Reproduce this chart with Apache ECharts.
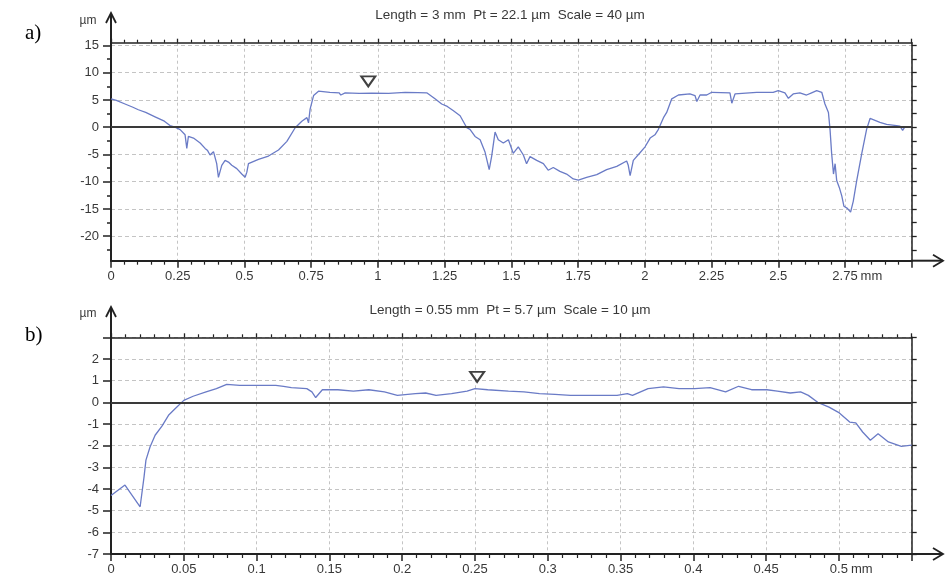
<!DOCTYPE html>
<html>
<head>
<meta charset="utf-8">
<script src="https://cdn.jsdelivr.net/npm/echarts@6/dist/echarts.min.js"></script>
<style>
  html, body { margin: 0; padding: 0; background: #fff; }
  #chart { width: 945px; height: 580px; }
</style>
</head>
<body>
<div id="chart"></div>
<script>
// ---- Profile a): 3 mm trace (x in mm, height in µm) ----
const profileA_x = [
  0, 0.02, 0.0525, 0.08, 0.1025, 0.13, 0.165, 0.2, 0.221, 0.24, 0.259, 0.2775, 0.284, 0.29, 0.309,
  0.334, 0.3525, 0.362, 0.371, 0.384, 0.396, 0.4025, 0.415, 0.4275, 0.44, 0.4525, 0.4713, 0.49,
  0.5025, 0.509, 0.515, 0.5525, 0.59, 0.6275, 0.659, 0.69, 0.715, 0.734, 0.74, 0.746, 0.759,
  0.7775, 0.82, 0.855, 0.861, 0.8775, 0.93, 0.9775, 1.04, 1.1025, 1.15, 1.183, 1.214, 1.239,
  1.26, 1.283, 1.308, 1.333, 1.345, 1.364, 1.383, 1.401, 1.417, 1.426, 1.439, 1.451, 1.47,
  1.489, 1.507, 1.526, 1.545, 1.557, 1.57, 1.595, 1.62, 1.638, 1.657, 1.682, 1.707, 1.732,
  1.751, 1.782, 1.82, 1.857, 1.895, 1.932, 1.938, 1.945, 1.957, 1.982, 2.001, 2.02, 2.038,
  2.051, 2.07, 2.082, 2.101, 2.126, 2.169, 2.188, 2.195, 2.207, 2.232, 2.251, 2.319, 2.326,
  2.338, 2.419, 2.481, 2.5, 2.525, 2.538, 2.556, 2.581, 2.606, 2.625, 2.644, 2.663, 2.675,
  2.688, 2.694, 2.7, 2.707, 2.713, 2.719, 2.729, 2.738, 2.746, 2.759, 2.771, 2.781, 2.794,
  2.813, 2.831, 2.844, 2.881, 2.906, 2.943, 2.956, 2.966, 2.975
];
const profileA_y = [
  5.2, 4.9, 4.25, 3.7, 3.2, 2.7, 1.9, 1.1, 0.3, 0, -0.44, -1.4, -3.9, -1.7, -2.0,
  -2.9, -3.9, -4.3, -5.1, -4.5, -6.7, -9.2, -7.0, -6.1, -6.4, -7.0, -7.6, -8.6,
  -9.2, -8.25, -6.7, -5.9, -5.3, -4.2, -2.6, -0.1, 1.1, 1.75, 0.8, 3.3, 5.8,
  6.6, 6.4, 6.3, 5.9, 6.3, 6.2, 6.25, 6.2, 6.4, 6.35, 6.3, 5.2, 4.25,
  3.8, 3.0, 2.1, -0.1, -0.4, -1.7, -2.3, -4.5, -7.8, -5.4, -0.9, -2.3, -2.9,
  -2.3, -4.8, -3.6, -5.1, -6.7, -5.4, -6.1, -6.7, -7.9, -7.4, -8.1, -8.6, -9.5,
  -9.7, -9.2, -8.7, -7.8, -7.2, -6.2, -7.0, -8.9, -6.1, -4.7, -3.6, -2.0, -1.4,
  -0.4, 1.75, 2.7, 5.2, 5.9, 6.1, 5.8, 4.7, 5.9, 5.9, 6.4, 6.3, 4.4,
  6.1, 6.4, 6.4, 6.7, 6.3, 5.3, 6.1, 6.3, 5.9, 6.3, 6.7, 6.4, 4.25,
  2.7, -0.4, -4.8, -8.6, -6.7, -9.8, -11.1, -12.6, -14.5, -14.9, -15.6, -13.6, -9.8,
  -4.8, -0.4, 1.6, 0.9, 0.5, 0.3, 0.2, -0.6, 0.1
];
const peakA = [0.964, 8.4];

// ---- Profile b): 0.55 mm trace ----
const profileB_x = [
  0, 0.0096, 0.02, 0.0227, 0.024, 0.0268, 0.0303, 0.035, 0.0395, 0.044, 0.05, 0.0564,
  0.0653, 0.0724, 0.0795, 0.0884, 0.1026, 0.1132, 0.1185, 0.1239, 0.1345, 0.138, 0.1406,
  0.1452, 0.1558, 0.1665, 0.1771, 0.1878, 0.1967, 0.2091, 0.2162, 0.2233, 0.2339, 0.2446,
  0.25, 0.2588, 0.273, 0.2837, 0.2943, 0.305, 0.3156, 0.3334, 0.3476, 0.3547, 0.3582,
  0.3689, 0.3795, 0.3902, 0.4009, 0.4115, 0.4222, 0.4311, 0.44, 0.4506, 0.4577, 0.4666,
  0.4737, 0.479, 0.4854, 0.4932, 0.5003, 0.5074, 0.5116, 0.5163, 0.5216, 0.5269, 0.534,
  0.5429, 0.55
];
const profileB_y = [
  -4.3, -3.82, -4.82, -3.44, -2.67, -2.06, -1.52, -1.1, -0.6, -0.3, 0.09, 0.28,
  0.48, 0.63, 0.83, 0.78, 0.78, 0.78, 0.74, 0.68, 0.63, 0.48, 0.22,
  0.58, 0.58, 0.52, 0.58, 0.48, 0.32, 0.4, 0.43, 0.32, 0.4, 0.52,
  0.63, 0.58, 0.52, 0.48, 0.4, 0.37, 0.32, 0.32, 0.32, 0.4, 0.32,
  0.63, 0.71, 0.63, 0.63, 0.68, 0.48, 0.74, 0.58, 0.58, 0.52, 0.43,
  0.48, 0.32, 0, -0.22, -0.49, -0.91, -0.95, -1.37, -1.75, -1.45, -1.83,
  -2.03, -1.98
];
const peakB = [0.2515, 1.17];

// ---- Axis ranges and tick values ----
const xRangeA = [0, 3], xStepA = 0.25;
const yRangeA = [-24.5, 15.5];
const yLabelsA = [-20, -15, -10, -5, 0, 5, 10, 15];
const yMinorA = [-22.5, -17.5, -12.5, -7.5, -2.5, 2.5, 7.5, 12.5];
const yFrameTicksA = [-22.5, -20, -17.5, -15, -12.5, -10, -7.5, -5, -2.5, 0, 2.5, 5, 7.5, 10, 12.5, 15];
const xRangeB = [0, 0.55], xStepB = 0.05;
const yRangeB = [-7, 3], yStepB = 1;
const titleA = 'Length = 3 mm  Pt = 22.1 µm  Scale = 40 µm';
const titleB = 'Length = 0.55 mm  Pt = 5.7 µm  Scale = 10 µm';

// ---- Layout ----
const L = 111, R = 911.7, RIGHT_GAP = 945 - R;
const A_TOP = 42.7, A_BOT = 260.7;
const B_TOP = 337.3, B_BOT = 554;
const FONT = '"Liberation Sans", Arial, sans-serif';
const INK = '#222';
const TEXT = '#383838';
const TICK_FS = 13;
const LINE_BLUE = '#6a7bc6';

const gridDash = { color: '#c4c4c4', width: 1, type: [4, 3] };
const vDash = { color: '#c4c4c4', width: 1, type: [3, 3] };

function xLabel(unitAt, hideAt) {
  return function (v) {
    const s = String(+v.toFixed(3));
    if (Math.abs(v - hideAt) < 1e-9) return '';
    if (Math.abs(v - unitAt) < 1e-9) return '{p|}{v|' + s + '}{u| mm}';
    return s;
  };
}
const labelRich = {
  p: { width: 24 },
  v: { fontSize: TICK_FS, color: TEXT, fontFamily: FONT },
  u: { fontSize: TICK_FS, color: TEXT, fontFamily: FONT, width: 24, align: 'left' }
};

function bottomAxis(grid, range, step, unitAt) {
  return {
    type: 'value', gridIndex: grid, position: 'bottom', min: range[0], max: range[1], interval: step,
    axisLine: { show: true, onZero: false, lineStyle: { color: INK, width: 2 } },
    axisTick: { show: true, length: 7, lineStyle: { color: INK, width: 1.5 } },
    minorTick: { show: true, splitNumber: 5, length: 4, lineStyle: { color: INK, width: 1.2 } },
    axisLabel: {
      margin: 9, fontSize: TICK_FS, color: TEXT, fontFamily: FONT,
      formatter: xLabel(unitAt, range[1]), rich: labelRich, showMaxLabel: true, showMinLabel: true
    },
    splitLine: { show: true, lineStyle: vDash }
  };
}
function topAxis(grid, range, step) {
  return {
    type: 'value', gridIndex: grid, position: 'top', min: range[0], max: range[1], interval: step,
    axisLine: { show: true, onZero: false, lineStyle: { color: INK, width: 1.5 } },
    axisTick: { show: true, length: 4, lineStyle: { color: INK, width: 1.3 } },
    minorTick: { show: true, splitNumber: 5, length: 3, lineStyle: { color: INK, width: 1.2 } },
    axisLabel: { show: false }, splitLine: { show: false }
  };
}

const option = {
  backgroundColor: '#fff',
  animation: false,
  grid: [
    { left: L, right: RIGHT_GAP, top: A_TOP, height: A_BOT - A_TOP },
    { left: L, right: RIGHT_GAP, top: B_TOP, height: B_BOT - B_TOP }
  ],
  xAxis: [
    bottomAxis(0, xRangeA, xStepA, 2.75),
    topAxis(0, xRangeA, xStepA),
    bottomAxis(1, xRangeB, xStepB, 0.5),
    topAxis(1, xRangeB, xStepB)
  ],
  yAxis: [
    { // a) left axis with labels
      type: 'value', gridIndex: 0, position: 'left', min: yRangeA[0], max: yRangeA[1],
      axisLine: { show: true, onZero: false, lineStyle: { color: INK, width: 2 } },
      axisTick: { show: true, length: 8, customValues: yLabelsA, lineStyle: { color: INK, width: 1.5 } },
      axisLabel: { margin: 12, fontSize: TICK_FS, color: TEXT, fontFamily: FONT, customValues: yLabelsA },
      splitLine: { show: true, lineStyle: gridDash }
    },
    { // a) half-step ticks on the left
      type: 'value', gridIndex: 0, position: 'left', min: yRangeA[0], max: yRangeA[1],
      axisLine: { show: false },
      axisTick: { show: true, length: 4, customValues: yMinorA, lineStyle: { color: INK, width: 1.5 } },
      axisLabel: { show: false }, splitLine: { show: false }
    },
    { // a) right frame
      type: 'value', gridIndex: 0, position: 'right', min: yRangeA[0], max: yRangeA[1],
      axisLine: { show: true, onZero: false, lineStyle: { color: INK, width: 1.5 } },
      axisTick: { show: true, length: 5, customValues: yFrameTicksA, lineStyle: { color: INK, width: 1.3 } },
      axisLabel: { show: false }, splitLine: { show: false }
    },
    { // b) left axis with labels
      type: 'value', gridIndex: 1, position: 'left', min: yRangeB[0], max: yRangeB[1], interval: yStepB,
      axisLine: { show: true, onZero: false, lineStyle: { color: INK, width: 2 } },
      axisTick: { show: true, length: 8, lineStyle: { color: INK, width: 1.5 } },
      axisLabel: {
        margin: 12, fontSize: TICK_FS, color: TEXT, fontFamily: FONT,
        formatter: v => (v === yRangeB[1] ? '' : String(v))
      },
      splitLine: { show: true, lineStyle: gridDash }
    },
    { // b) right frame
      type: 'value', gridIndex: 1, position: 'right', min: yRangeB[0], max: yRangeB[1], interval: yStepB,
      axisLine: { show: true, onZero: false, lineStyle: { color: INK, width: 1.5 } },
      axisTick: { show: true, length: 5, lineStyle: { color: INK, width: 1.3 } },
      axisLabel: { show: false }, splitLine: { show: false }
    }
  ],
  series: [
    {
      name: 'a', type: 'line', xAxisIndex: 0, yAxisIndex: 0,
      data: profileA_x.map((x, i) => [x, profileA_y[i]]),
      showSymbol: false, symbol: 'none', silent: true,
      lineStyle: { color: LINE_BLUE, width: 1.3 },
      markLine: {
        silent: true, symbol: 'none', label: { show: false },
        lineStyle: { color: '#3a3a3a', width: 2, type: 'solid' },
        data: [{ yAxis: 0 }]
      },
      z: 3
    },
    {
      name: 'a peak', type: 'scatter', xAxisIndex: 0, yAxisIndex: 0, data: [peakA],
      symbol: 'triangle', symbolRotate: 180, symbolSize: [14, 10], silent: true,
      itemStyle: { color: '#fff', borderColor: '#111', borderWidth: 2 }, z: 4
    },
    {
      name: 'b', type: 'line', xAxisIndex: 2, yAxisIndex: 3,
      data: profileB_x.map((x, i) => [x, profileB_y[i]]),
      showSymbol: false, symbol: 'none', silent: true,
      lineStyle: { color: LINE_BLUE, width: 1.3 },
      markLine: {
        silent: true, symbol: 'none', label: { show: false },
        lineStyle: { color: '#3a3a3a', width: 2, type: 'solid' },
        data: [{ yAxis: 0 }]
      },
      z: 3
    },
    {
      name: 'b peak', type: 'scatter', xAxisIndex: 2, yAxisIndex: 3, data: [peakB],
      symbol: 'triangle', symbolRotate: 180, symbolSize: [14, 10], silent: true,
      itemStyle: { color: '#fff', borderColor: '#111', borderWidth: 2 }, z: 4
    }
  ],
  graphic: []
};

// Axis arrows (open chevrons), panel letters, headers and unit labels
function arrowY(top, tipY) {
  return [
    { type: 'line', shape: { x1: L, y1: top, x2: L, y2: tipY }, style: { stroke: INK, lineWidth: 2 } },
    { type: 'polyline', shape: { points: [[L - 5, tipY + 10], [L, tipY], [L + 5, tipY + 10]] },
      style: { stroke: INK, lineWidth: 1.8, fill: null } }
  ];
}
function arrowX(y, tipX) {
  return [
    { type: 'line', shape: { x1: R, y1: y, x2: tipX, y2: y }, style: { stroke: INK, lineWidth: 2 } },
    { type: 'polyline', shape: { points: [[tipX - 10, y - 6], [tipX, y], [tipX - 10, y + 6]] },
      style: { stroke: INK, lineWidth: 1.8, fill: null } }
  ];
}
function txt(text, x, y, size, family, align, color) {
  return {
    type: 'text', x: x, y: y, silent: true,
    style: { text: text, fontSize: size, fontFamily: family, fill: color || TEXT,
             align: align || 'center', verticalAlign: 'middle' }
  };
}
option.graphic = [].concat(
  arrowY(A_TOP, 13), arrowX(A_BOT, 943),
  arrowY(B_TOP, 307), arrowX(B_BOT, 943),
  [
    txt(titleA, 510, 15, 13.5, FONT),
    txt(titleB, 510, 310, 13.5, FONT),
    txt('µm', 88, 21, 12, FONT),
    txt('µm', 88, 314, 12, FONT),
    txt('a)', 25, 33, 21, '"Liberation Serif", "Times New Roman", serif', 'left', '#000'),
    txt('b)', 25, 335, 21, '"Liberation Serif", "Times New Roman", serif', 'left', '#000')
  ]
);

const chart = echarts.init(document.getElementById('chart'), null, { renderer: 'canvas' });
chart.setOption(option);
</script>
</body>
</html>
